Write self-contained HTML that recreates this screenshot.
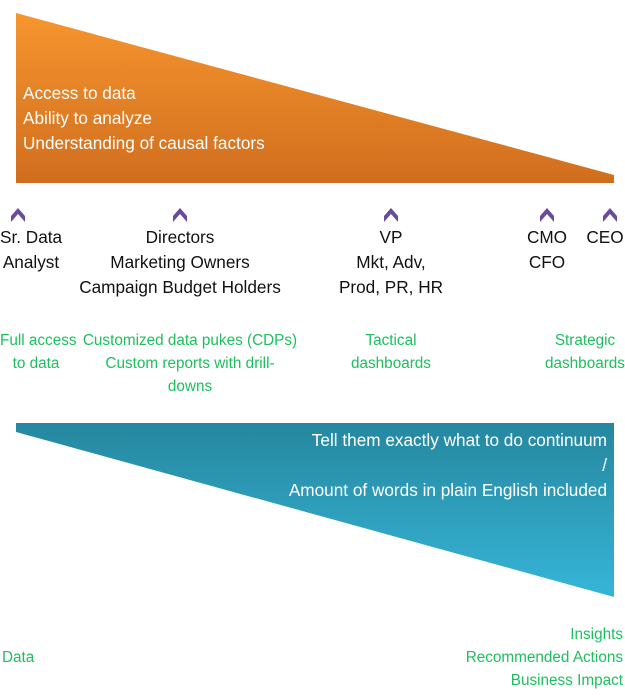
<!DOCTYPE html>
<html><head><style>
body{margin:0;width:625px;height:699px;background:#fff;position:relative;overflow:hidden;font-family:"Liberation Sans",sans-serif}
.t{position:absolute;font-size:17.2px;line-height:25px;white-space:nowrap;text-align:center;color:#111}
.g{color:#1dbf5e;font-size:15.3px;line-height:23px}
.w{color:#fff;text-align:left}
</style></head><body>
<svg width="625" height="699" style="position:absolute;left:0;top:0">
<defs>
<linearGradient id="o" x1="0" y1="0" x2="0" y2="1"><stop offset="0" stop-color="#f7952e"/><stop offset="1" stop-color="#d06e1f"/></linearGradient>
<linearGradient id="b" x1="0" y1="0" x2="0" y2="1"><stop offset="0" stop-color="#26879f"/><stop offset="1" stop-color="#36b5d8"/></linearGradient>
</defs>
<polygon points="16,13 614,175 614,183 16,183" fill="url(#o)"/>
<polygon points="16,423 614,423 614,597 16,432" fill="url(#b)"/>
<g fill="#6a4a9a">
<polygon points="11,222 18,214 25,222 25,216 18,208 11,216"/>
<polygon points="173,222 180,214 187,222 187,216 180,208 173,216"/>
<polygon points="384,222 391,214 398,222 398,216 391,208 384,216"/>
<polygon points="540,222 547,214 554,222 554,216 547,208 540,216"/>
<polygon points="603,222 610,214 617,222 617,216 610,208 603,216"/>
</g>
</svg>
<div class="t w" style="left:23px;top:81px">Access to data<br>Ability to analyze<br>Understanding of causal factors</div>
<div class="t" style="left:0;top:225px;width:62px">Sr. Data<br>Analyst</div>
<div class="t" style="left:70px;top:225px;width:220px">Directors<br>Marketing Owners<br>Campaign Budget Holders</div>
<div class="t" style="left:330px;top:225px;width:122px">VP<br>Mkt, Adv,<br>Prod, PR, HR</div>
<div class="t" style="left:520px;top:225px;width:54px">CMO<br>CFO</div>
<div class="t" style="left:584px;top:225px;width:42px">CEO</div>
<div class="t g" style="left:0;top:329px;width:72px">Full access<br>to data</div>
<div class="t g" style="left:80px;top:329px;width:220px">Customized data pukes (CDPs)<br>Custom reports with drill-<br>downs</div>
<div class="t g" style="left:340px;top:329px;width:102px">Tactical<br>dashboards</div>
<div class="t g" style="left:540px;top:329px;width:90px">Strategic<br>dashboards</div>
<div class="t w" style="right:18px;top:428px;text-align:right">Tell them exactly what to do continuum<br>/<br>Amount of words in plain English included</div>
<div class="t g" style="left:2px;top:646px;text-align:left">Data</div>
<div class="t g" style="right:2px;top:623px;text-align:right">Insights<br>Recommended Actions<br>Business Impact</div>
</body></html>
